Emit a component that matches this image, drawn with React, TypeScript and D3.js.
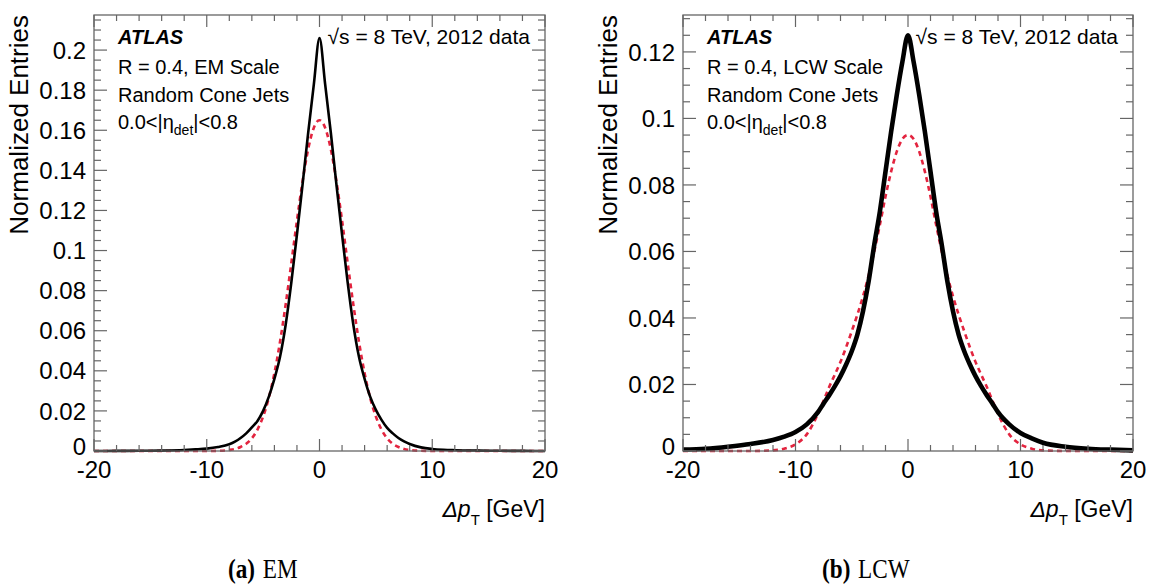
import React from 'react';
import * as d3 from 'd3';

const X_GRID = [-20, -18, -16, -14, -12, -11, -10, -9, -8, -7.5, -7, -6.5, -6, -5.5, -5, -4.5, -4, -3.5, -3, -2.5, -2, -1.5, -1, -0.5, 0, 0.5, 1, 1.5, 2, 2.5, 3, 3.5, 4, 4.5, 5, 5.5, 6, 6.5, 7, 7.5, 8, 9, 10, 11, 12, 14, 16, 18, 20];

const EM_DATA = [0.00003, 0.00005, 0.0001, 0.0002, 0.0005, 0.0008, 0.0012, 0.002, 0.0034, 0.0047, 0.0065, 0.0088, 0.0118, 0.015, 0.02, 0.027, 0.036, 0.047, 0.063, 0.084, 0.108, 0.133, 0.159, 0.183, 0.206, 0.183, 0.159, 0.133, 0.108, 0.084, 0.063, 0.047, 0.036, 0.027, 0.0205, 0.0155, 0.0115, 0.0088, 0.0065, 0.0048, 0.0035, 0.0018, 0.001, 0.0006, 0.0004, 0.0002, 0.0001, 0.00005, 0.00003];

const EM_FIT = [0, 0, 0, 0, 0, 0, 0, 0.0001, 0.0005, 0.001, 0.002, 0.0036, 0.0063, 0.0107, 0.0172, 0.0264, 0.0388, 0.0545, 0.0731, 0.0937, 0.1149, 0.1346, 0.1507, 0.1613, 0.165, 0.1613, 0.1507, 0.1346, 0.1149, 0.0937, 0.0731, 0.0545, 0.0388, 0.0264, 0.0172, 0.0107, 0.0063, 0.0036, 0.002, 0.001, 0.0005, 0.0001, 0, 0, 0, 0, 0, 0, 0];

const LCW_DATA = [0.0004, 0.0007, 0.0013, 0.0021, 0.0033, 0.0043, 0.0057, 0.008, 0.0117, 0.0143, 0.0168, 0.0195, 0.0225, 0.026, 0.03, 0.035, 0.042, 0.051, 0.062, 0.072, 0.084, 0.096, 0.107, 0.117, 0.125, 0.117, 0.107, 0.096, 0.084, 0.072, 0.062, 0.051, 0.042, 0.035, 0.03, 0.026, 0.0225, 0.0195, 0.0168, 0.0143, 0.0117, 0.008, 0.0054, 0.0038, 0.0025, 0.0013, 0.0007, 0.0004, 0.0002];

const LCW_FIT = [0, 0, 0, 0, 0.0002, 0.0007, 0.002, 0.005, 0.0112, 0.0152, 0.0193, 0.023, 0.0268, 0.0312, 0.036, 0.041, 0.0465, 0.0528, 0.06, 0.068, 0.0765, 0.084, 0.09, 0.0938, 0.095, 0.0938, 0.09, 0.084, 0.0765, 0.068, 0.06, 0.0528, 0.0465, 0.041, 0.036, 0.0312, 0.0268, 0.023, 0.0193, 0.0152, 0.0112, 0.005, 0.002, 0.0007, 0.0002, 0, 0, 0, 0];

const X_TICKS = [-20, -10, 0, 10, 20];
const EM_Y_TICKS = [0, 0.02, 0.04, 0.06, 0.08, 0.1, 0.12, 0.14, 0.16, 0.18, 0.2];
const LCW_Y_TICKS = [0, 0.02, 0.04, 0.06, 0.08, 0.1, 0.12];
const CAPTIONS = [['(a)', 'EM'], ['(b)', 'LCW']];

const SANS = "'Liberation Sans', Arial, Helvetica, sans-serif";
const SERIF = "'Liberation Serif', 'Times New Roman', serif";
const RED = '#e3243f';
const FRAME = '#666';

type PanelProps = {
  x0: number; x1: number; y0: number; y1: number; ymax: number;
  yTicks: number[]; data: number[]; fit: number[]; scale: string; dataWidth: number;
};

function Panel({ x0, x1, y0, y1, ymax, yTicks, data, fit, scale, dataWidth }: PanelProps) {
  const x = d3.scaleLinear().domain([-20, 20]).range([x0, x1]);
  const y = d3.scaleLinear().domain([0, ymax]).range([y1, y0]);
  const line = d3.line<number>().x((_, i) => x(X_GRID[i])).y((d) => y(d)).curve(d3.curveMonotoneX);
  const xMinor = d3.range(-20, 20.001, 2);
  const yMinor = d3.range(0, ymax, 0.005);
  const fmt = (v: number) => String(+v.toFixed(2));
  const ax = x0 + 24;
  return (
    <g>
      <path d={line(fit) || ''} fill="none" stroke={RED} strokeWidth={2.6} strokeDasharray="5 4" />
      <path d={line(data) || ''} fill="none" stroke="#000" strokeWidth={dataWidth} strokeLinejoin="round" />
      <rect x={x0} y={y0} width={x1 - x0} height={y1 - y0} fill="none" stroke={FRAME} strokeWidth={1.3} />
      {xMinor.map((v) => {
        const major = X_TICKS.includes(Math.round(v));
        const L = major ? 12 : 6;
        return (
          <g key={'xt' + v} stroke={FRAME} strokeWidth={1.2}>
            <line x1={x(v)} x2={x(v)} y1={y1} y2={y1 - L} />
            <line x1={x(v)} x2={x(v)} y1={y0} y2={y0 + L} />
          </g>
        );
      })}
      {yMinor.map((v, i) => {
        const major = i % 4 === 0;
        const L = major ? 13 : 7;
        return (
          <g key={'yt' + i} stroke={FRAME} strokeWidth={1.2}>
            <line x1={x0} x2={x0 + L} y1={y(v)} y2={y(v)} />
            <line x1={x1} x2={x1 - L} y1={y(v)} y2={y(v)} />
          </g>
        );
      })}
      {X_TICKS.map((v) => (
        <text key={'xl' + v} x={x(v)} y={y1 + 27} textAnchor="middle" fontSize={24} fontFamily={SANS}>{v}</text>
      ))}
      {yTicks.map((v) => (
        <text key={'yl' + v} x={x0 - 8} y={y(v) - (v === 0 ? 5 : 0)} dy="0.36em" textAnchor="end" fontSize={24} fontFamily={SANS}>{fmt(v)}</text>
      ))}
      <text transform={`translate(${x0 - 66},${y0}) rotate(-90)`} textAnchor="end" fontSize={26} fontFamily={SANS}>Normalized Entries</text>
      <text x={x1} y={y1 + 66} textAnchor="end" fontSize={23} fontFamily={SANS}>
        <tspan fontStyle="italic">Δp</tspan>
        <tspan fontSize={15} dy={8}>T</tspan>
        <tspan dy={-8}> [GeV]</tspan>
      </text>
      <text x={ax} y={44} fontSize={20} fontWeight="bold" fontStyle="italic" fontFamily={SANS}>ATLAS</text>
      <text x={ax} y={74} fontSize={20} fontFamily={SANS}>{`R = 0.4, ${scale} Scale`}</text>
      <text x={ax} y={102} fontSize={20} fontFamily={SANS}>Random Cone Jets</text>
      <text x={ax} y={129} fontSize={20} fontFamily={SANS}>
        <tspan>0.0&lt;|η</tspan>
        <tspan fontSize={14} dy={6}>det</tspan>
        <tspan dy={-6}>|&lt;0.8</tspan>
      </text>
      <text x={x1 - 15} y={44} textAnchor="end" fontSize={21} fontFamily={SANS}>√s = 8 TeV, 2012 data</text>
    </g>
  );
}

export default function App() {
  return (
    <svg width={1151} height={586} style={{ position: 'absolute', left: 0, top: 0, background: '#fff' }}>
      <rect width={1151} height={586} fill="#fff" />
      <Panel x0={94} x1={545} y0={15} y1={451} ymax={0.2175} yTicks={EM_Y_TICKS} data={EM_DATA} fit={EM_FIT} scale="EM" dataWidth={2.6} />
      <Panel x0={683} x1={1133} y0={15} y1={451} ymax={0.1311} yTicks={LCW_Y_TICKS} data={LCW_DATA} fit={LCW_FIT} scale="LCW" dataWidth={4.6} />
      {CAPTIONS.map(([a, b], i) => (
        <text key={a} transform={`translate(${i === 0 ? 228 : 822},578) scale(0.86,1)`} fontSize={27} fontFamily={SERIF}>
          <tspan fontWeight="bold">{a}</tspan>
          <tspan dx={9}>{b}</tspan>
        </text>
      ))}
    </svg>
  );
}
